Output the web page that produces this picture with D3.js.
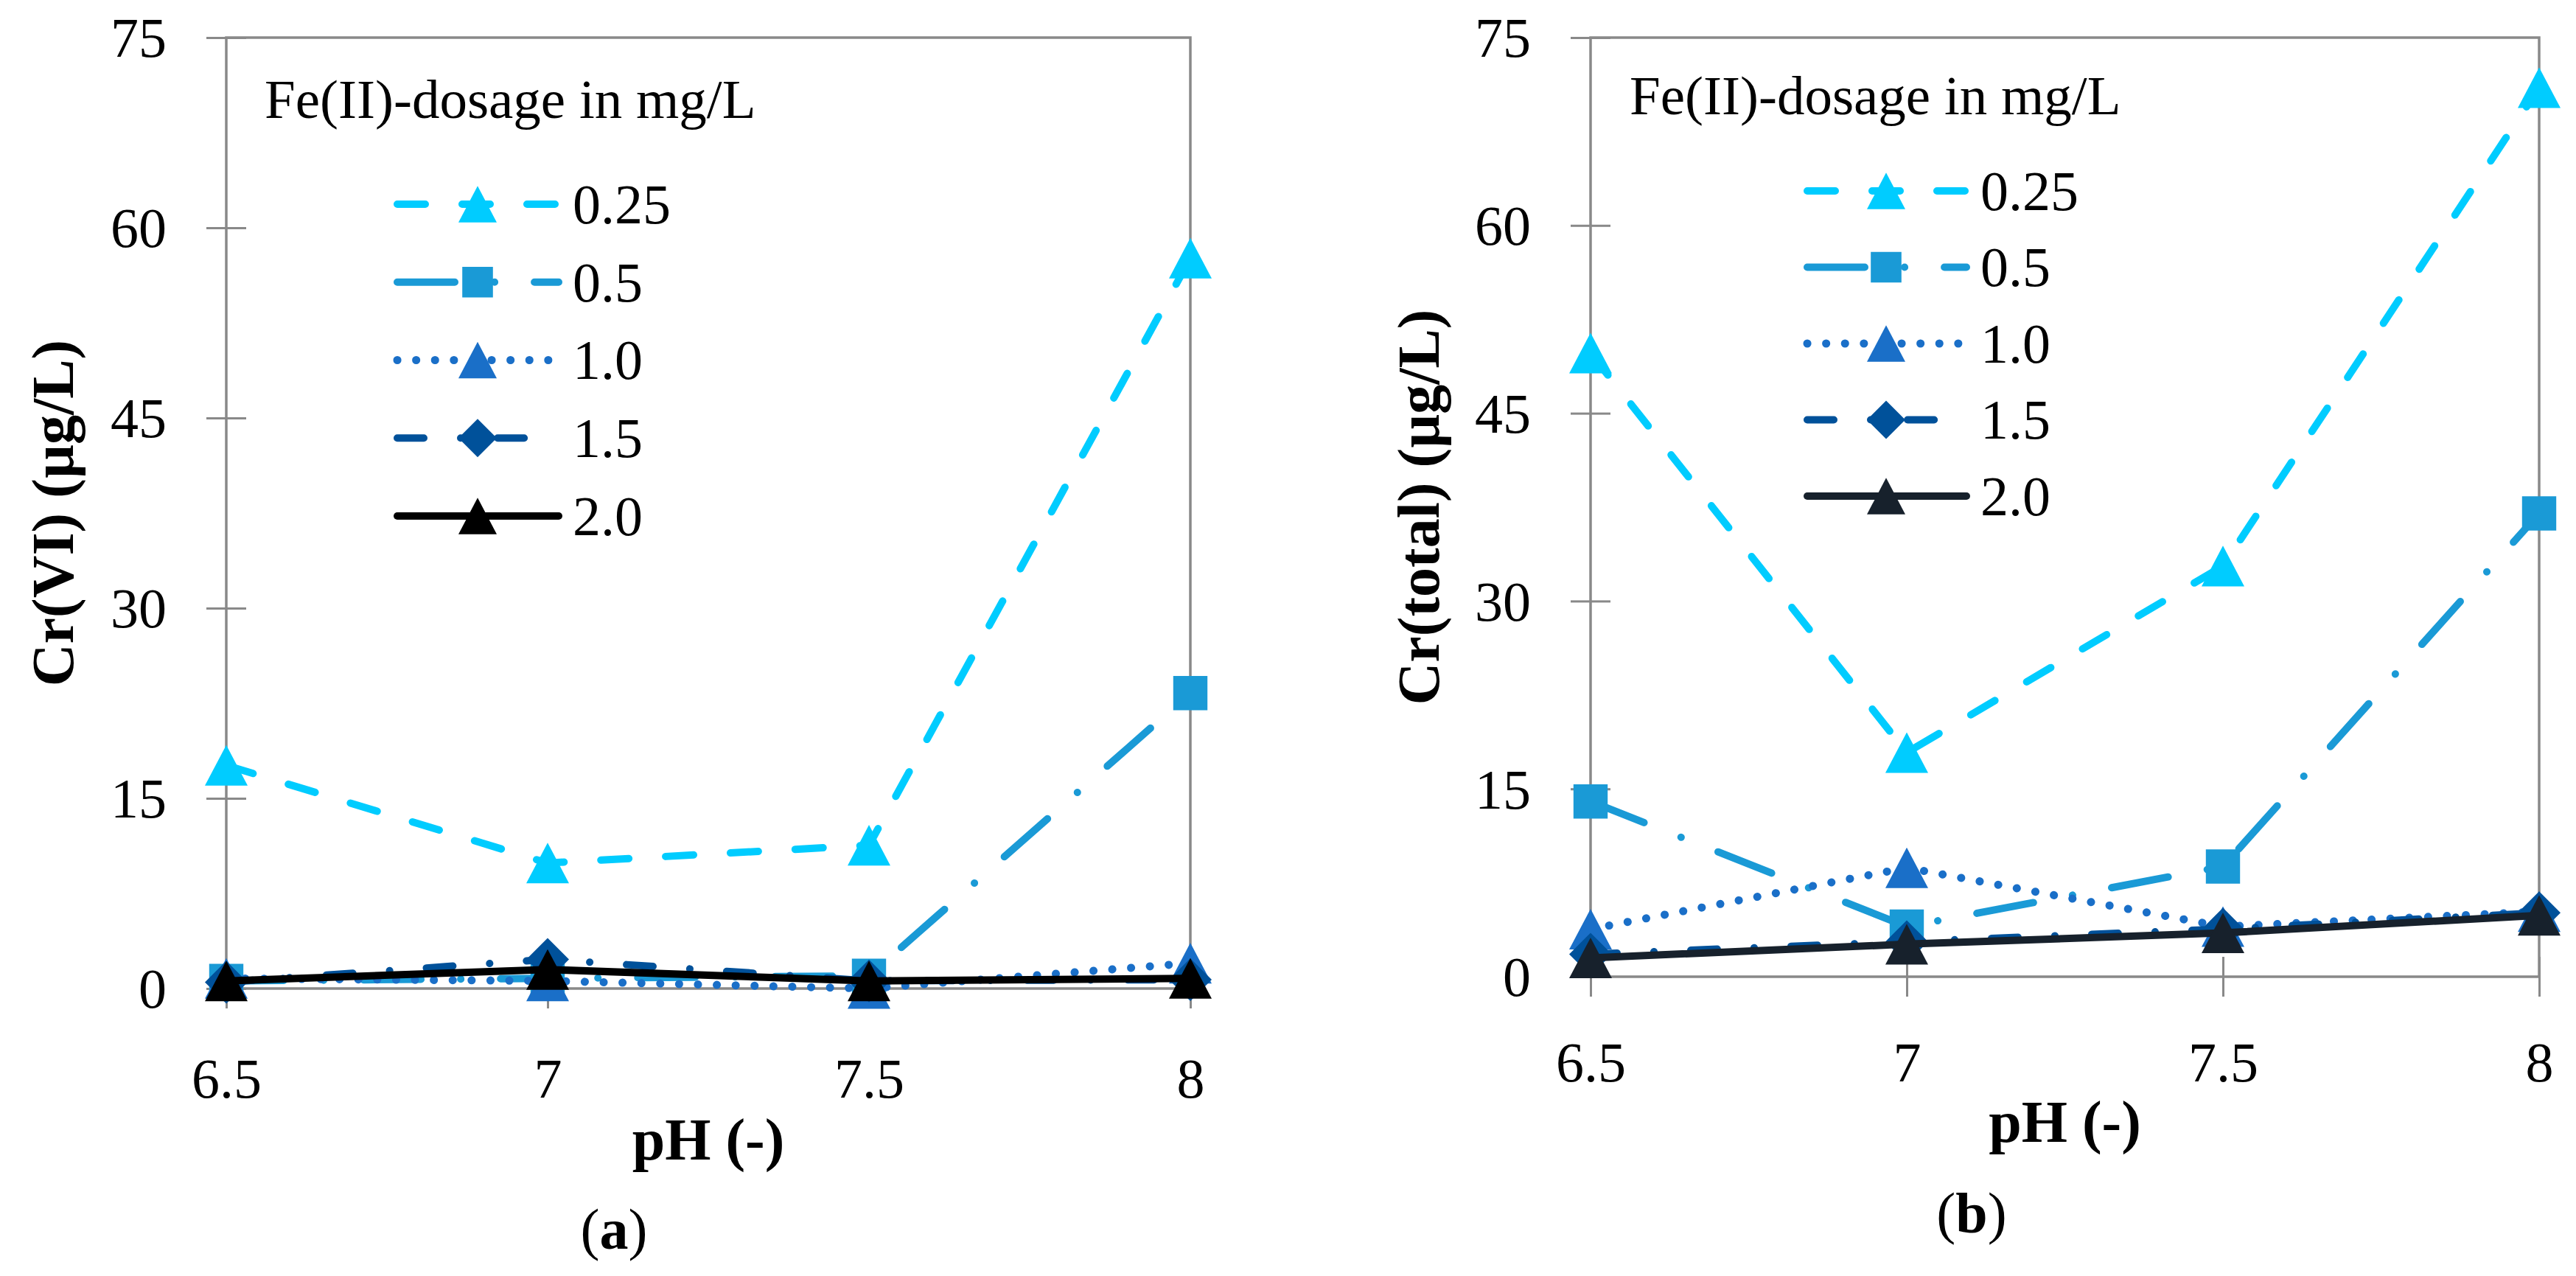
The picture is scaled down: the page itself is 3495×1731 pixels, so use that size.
<!DOCTYPE html>
<html><head><meta charset="utf-8">
<script src="https://cdn.jsdelivr.net/npm/d3@7"></script>
<style>html,body{margin:0;padding:0;background:#fff;} svg{display:block;}</style>
</head><body>
<svg id="chart" width="3495" height="1731"></svg>
<script>
// ---------- DATA ----------
const pH = [6.5, 7, 7.5, 8];
const xTickValues = [6.5, 7, 7.5, 8];
const yTickValues = [0, 15, 30, 45, 60, 75];
const dosageLabels = ["0.25", "0.5", "1.0", "1.5", "2.0"];
const legendTitle = "Fe(II)-dosage in mg/L";

// Panel (a): Cr(VI) in µg/L
const crVI_025 = [17.6, 9.9, 11.3, 57.6];
const crVI_05  = [0.6, 0.8, 1.0, 23.3];
const crVI_10  = [0.8, 0.6, 0.0, 2.0];
const crVI_15  = [0.5, 2.3, 0.6, 0.7];
const crVI_20  = [0.6, 1.5, 0.6, 0.8];

// Panel (b): Cr(total) in µg/L
const crTot_025 = [49.8, 17.9, 32.8, 71.0];
const crTot_05  = [14.0, 4.0, 8.8, 37.0];
const crTot_10  = [3.8, 8.7, 4.0, 5.2];
const crTot_15  = [1.8, 2.8, 3.8, 5.1];
const crTot_20  = [1.5, 2.6, 3.5, 4.9];

// ---------- STYLE ----------
const FONT = "'Liberation Serif', 'Times New Roman', serif";
const AXIS_COLOR = "#898989";
const baseStyles = [
  {color: "#00CCFF", width: 10, dash: "38,50",           marker: "triangle"},
  {color: "#1A9AD6", width: 10, dash: "78,54,0.1,54",    marker: "square"},
  {color: "#1A6FC8", width: 11, dash: "0.1,25.5",        marker: "triangle"},
  {color: "#00519A", width: 10, dash: "36,50,0.1,50",    marker: "diamond"},
  {color: "#000000", width: 10, dash: null,              marker: "triangle"}
];

function markerPath(type, s) {
  if (type === "triangle") {
    const w = s, h = s * 0.95;
    return `M0,${-h/2}L${w/2},${h/2}L${-w/2},${h/2}Z`;
  } else if (type === "square") {
    const a = s * 0.8 / 2;
    return `M${-a},${-a}L${a},${-a}L${a},${a}L${-a},${a}Z`;
  } else {
    const a = s / 2;
    return `M0,${-a}L${a},0L0,${a}L${-a},0Z`;
  }
}

const svg = d3.select("#chart");
svg.append("rect").attr("width", 3495).attr("height", 1731).attr("fill", "#fff");

function drawPanel(cfg) {
  const g = svg.append("g");
  const x = d3.scaleLinear().domain([6.5, 8]).range([cfg.x0, cfg.x1]);
  const y = d3.scaleLinear().domain([0, 75]).range([cfg.y1, cfg.y0]);
  const styles = baseStyles.map((s, i) => i === 4 ? Object.assign({}, s, {color: cfg.lastColor}) : s);

  // frame
  g.append("rect")
    .attr("x", cfg.x0).attr("y", cfg.y0)
    .attr("width", cfg.x1 - cfg.x0).attr("height", cfg.y1 - cfg.y0)
    .attr("fill", "none").attr("stroke", AXIS_COLOR).attr("stroke-width", 3.5);

  // y axis (crossing ticks)
  const yAxisL = d3.axisLeft(y).tickValues(yTickValues).tickSize(27).tickSizeOuter(0).tickPadding(54)
    .tickFormat(d3.format("d"));
  const ya = g.append("g").attr("transform", `translate(${cfg.x0},0)`).call(yAxisL);
  const yAxisR = d3.axisRight(y).tickValues(yTickValues).tickSize(27).tickSizeOuter(0).tickFormat("");
  const yb = g.append("g").attr("transform", `translate(${cfg.x0},0)`).call(yAxisR);

  // x axis (crossing ticks)
  const xAxisB = d3.axisBottom(x).tickValues(xTickValues).tickSize(27).tickSizeOuter(0).tickPadding(0)
    .tickFormat(d => String(d));
  const xa = g.append("g").attr("transform", `translate(0,${cfg.y1})`).call(xAxisB);
  const xAxisT = d3.axisTop(x).tickValues(xTickValues).tickSize(27).tickSizeOuter(0).tickFormat("");
  const xb = g.append("g").attr("transform", `translate(0,${cfg.y1})`).call(xAxisT);

  [ya, yb, xa, xb].forEach(a => {
    a.select(".domain").remove();
    a.selectAll(".tick line").attr("stroke", AXIS_COLOR).attr("stroke-width", 3);
    a.selectAll(".tick text").attr("fill", "#000").attr("font-family", FONT).attr("font-size", 76);
  });
  ya.selectAll(".tick text").attr("dy", "0.34em");
  xa.selectAll(".tick text").attr("y", cfg.xTickY - cfg.y1).attr("dy", 0);

  // axis titles
  g.append("text")
    .attr("x", (cfg.x0 + cfg.x1) / 2).attr("y", cfg.xTitleY)
    .attr("text-anchor", "middle").attr("font-family", FONT).attr("font-weight", "bold")
    .attr("font-size", 80).text("pH (-)");
  g.append("text")
    .attr("transform", `translate(${cfg.yTitleX},${(cfg.y0 + cfg.y1) / 2}) rotate(-90)`)
    .attr("text-anchor", "middle").attr("font-family", FONT).attr("font-weight", "bold")
    .attr("font-size", 80).text(cfg.yTitle);

  // caption
  const cap = g.append("text").attr("x", cfg.capX).attr("y", cfg.capY)
    .attr("text-anchor", "middle").attr("font-family", FONT).attr("font-size", 78);
  cap.append("tspan").text("(");
  cap.append("tspan").attr("font-weight", "bold").text(cfg.letter);
  cap.append("tspan").text(")");

  // series
  const line = d3.line().x((d, i) => x(pH[i])).y(d => y(d));
  cfg.series.forEach((vals, si) => {
    const st = styles[si];
    const sg = g.append("g");
    sg.append("path").datum(vals).attr("d", line)
      .attr("fill", "none").attr("stroke", st.color).attr("stroke-width", st.width)
      .attr("stroke-linecap", "round").attr("stroke-linejoin", "round")
      .attr("stroke-dasharray", st.dash);
    sg.selectAll("path.m").data(vals).join("path").attr("class", "m")
      .attr("transform", (d, i) => `translate(${x(pH[i])},${y(d)})`)
      .attr("d", markerPath(st.marker, 58)).attr("fill", st.color);
  });

  // legend
  const lg = g.append("g");
  lg.append("text").attr("x", cfg.legendX).attr("y", cfg.legendTitleY)
    .attr("font-family", FONT).attr("font-size", 75).text(legendTitle);
  dosageLabels.forEach((lab, i) => {
    const st = styles[i];
    const ry = cfg.rowY0 + i * cfg.rowStep;
    lg.append("line").attr("x1", cfg.lineX0).attr("x2", cfg.lineX1).attr("y1", ry).attr("y2", ry)
      .attr("stroke", st.color).attr("stroke-width", st.width)
      .attr("stroke-linecap", "round").attr("stroke-dasharray", st.dash);
    lg.append("path").attr("transform", `translate(${cfg.markerX},${ry})`)
      .attr("d", markerPath(st.marker, 52)).attr("fill", st.color);
    lg.append("text").attr("x", cfg.labelX).attr("y", ry).attr("dy", "0.34em")
      .attr("font-family", FONT).attr("font-size", 76).text(lab);
  });
}

drawPanel({
  x0: 307, x1: 1615, y0: 51, y1: 1341,
  series: [crVI_025, crVI_05, crVI_10, crVI_15, crVI_20],
  yTitle: "Cr(VI) (µg/L)", yTitleX: 99,
  xTickY: 1489, xTitleY: 1573, capX: 833, capY: 1694, letter: "a",
  legendX: 359, legendTitleY: 160, rowY0: 277, rowStep: 105.75,
  lineX0: 539, lineX1: 758, markerX: 648, labelX: 777,
  lastColor: "#000000"
});
drawPanel({
  x0: 2158, x1: 3445, y0: 51, y1: 1325,
  series: [crTot_025, crTot_05, crTot_10, crTot_15, crTot_20],
  yTitle: "Cr(total) (µg/L)", yTitleX: 1952,
  xTickY: 1467, xTitleY: 1549, capX: 2675, capY: 1672, letter: "b",
  legendX: 2211, legendTitleY: 155, rowY0: 259, rowStep: 103.5,
  lineX0: 2452, lineX1: 2668, markerX: 2559, labelX: 2687,
  lastColor: "#17212C"
});
</script>
</body></html>
